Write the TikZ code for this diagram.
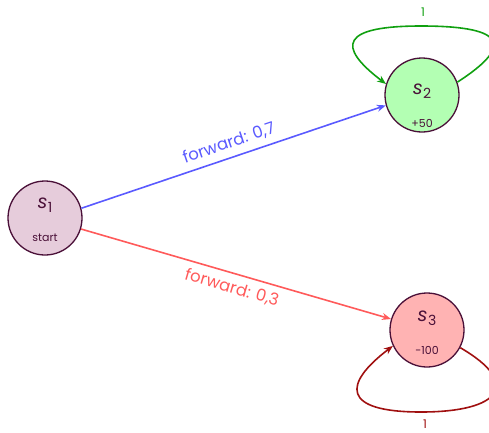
\documentclass[tikz,border=0pt]{standalone}
\usepackage{fontspec}
\setmainfont{Poppins}
\usetikzlibrary{arrows.meta}
\definecolor{bord}{HTML}{4A1038}
\definecolor{fone}{HTML}{E6CCDB}
\definecolor{ftwo}{HTML}{B3FFB3}
\definecolor{fthree}{HTML}{FFB3B3}
\definecolor{eblue}{HTML}{5A5AFF}
\definecolor{ered}{HTML}{FF5A5A}
\definecolor{egreen}{HTML}{10A010}
\definecolor{edred}{HTML}{A01010}
\tikzset{
  state/.style={circle,draw=bord,line width=1.3pt,minimum size=74pt,inner sep=0pt},
  stname/.style={text=bord,font=\fontsize{19}{19}\selectfont},
  streward/.style={text=bord,font=\fontsize{11}{11}\selectfont},
  edge/.style={line width=1.6pt,-{Stealth[length=9pt,width=7pt]}},
  elabel/.style={font=\fontsize{16.5}{16.5}\selectfont,sloped},
  looplabel/.style={font=\fontsize{12}{12}\selectfont,inner sep=2pt},
}
\newcommand{\sn}[1]{{\itshape s}\kern0.5pt\raisebox{-3.5pt}{\fontsize{14}{14}\selectfont #1}}
\begin{document}
\begin{tikzpicture}[x=1pt,y=-1pt]
\useasboundingbox (0,0) rectangle (489,432);
\node[state,fill=fone] (s1) at (45,218) {};
\node[state,fill=ftwo] (s2) at (422,95) {};
\node[state,fill=fthree] (s3) at (427,330) {};
\node[stname] (n1) at (45,205) {\sn{1}};
\node[streward] (r1) at (45,238) {start};
\node[stname] (n2) at (422,91) {\sn{2}};
\node[streward] (r2) at (422,123) {+50};
\node[stname] (n3) at (427,318) {\sn{3}};
\node[streward] (r3) at (427,350) {-100};
\coordinate (t2) at (421,26);
\coordinate (t3) at (421,412);
\draw[edge,eblue] (s1.15) -- node[elabel,above=3pt,text=eblue] {forward: 0,7} (s2.196);
\draw[edge,ered] (s1.-17) -- node[elabel,below=3pt,text=ered] {forward: 0,3} (s3.163);
\draw[edge,egreen] (s2.20) .. controls +(62,-40) and +(78,0) .. (t2) .. controls +(-80,0) and +(-50,-38) .. (s2.163);
\draw[edge,edred] (s3.-28) .. controls +(62,36) and +(80,0) .. (t3) .. controls +(-80,0) and +(-50,38) .. (s3.-155);
\node[looplabel,text=egreen] (l2) at (423,12) {1};
\node[looplabel,text=edred] (l3) at (425,424) {1};
\end{tikzpicture}
\end{document}
